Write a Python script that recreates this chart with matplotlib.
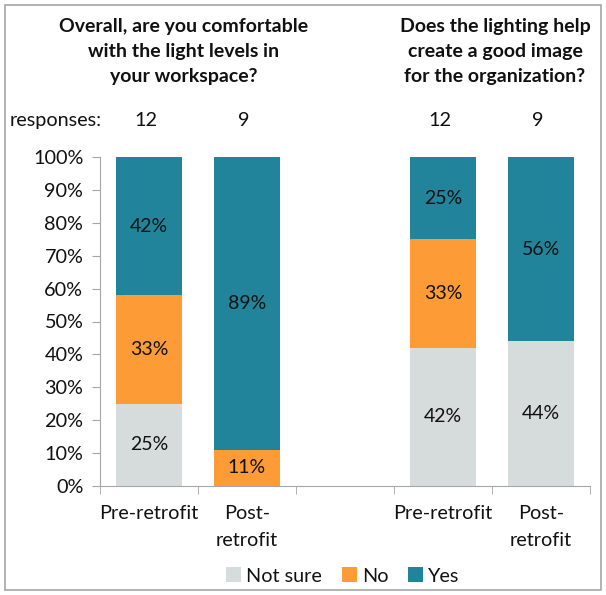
import matplotlib
matplotlib.use("Agg")
import matplotlib.pyplot as plt
from matplotlib.patches import Rectangle
import numpy as np

plt.rcParams['font.family'] = ['Lato', 'DejaVu Sans']

categories = ["Pre-retrofit", "Post-\nretrofit", "", "Pre-retrofit", "Post-\nretrofit"]
not_sure = [25, 0, None, 42, 44]
no = [33, 11, None, 33, 0]
yes = [42, 89, None, 25, 56]
responses = ["12", "9", "", "12", "9"]
titles = ["Overall, are you comfortable\nwith the light levels in\nyour workspace?",
          "Does the lighting help\ncreate a good image\nfor the organization?"]

colors = {"Not sure": "#D6DBDB", "No": "#FD9B37", "Yes": "#21849B"}
txt = "#111111"
fs = 14.3

fig = plt.figure(figsize=(6.06, 5.95), dpi=100)
ax = fig.add_axes([100/606, 1-486/595, 490/606, 329/595])

x = np.arange(len(categories))
w = 0.675
series = [("Not sure", not_sure), ("No", no), ("Yes", yes)]
bottom = np.zeros(len(categories))
for name, vals in series:
    v = np.array([0 if a is None else a for a in vals], dtype=float)
    ax.bar(x, v, w, bottom=bottom, color=colors[name], label=name, linewidth=0)
    for i, val in enumerate(v):
        if val > 0:
            ax.text(x[i], bottom[i] + val/2, f"{int(val)}%", ha="center", va="center",
                    fontsize=14, color=txt)
    bottom += v

ax.set_xlim(-0.5, len(categories) - 0.5)
ax.set_ylim(0, 100)
ax.set_yticks(np.arange(0, 101, 10))
ax.set_yticklabels([f"{t}%" for t in range(0, 101, 10)], fontsize=fs, color=txt)
ax.set_xticks(x)
ax.set_xticklabels(categories, fontsize=fs, linespacing=1.7, color=txt)
ax.set_xticks(np.arange(-0.5, len(categories), 1), minor=True)
ax.tick_params(axis="x", which="major", length=0, pad=14)
ax.tick_params(axis="x", which="minor", length=6, color="#A6A6A6", direction="out")
ax.tick_params(axis="y", length=6, color="#A6A6A6", direction="out", pad=6)
for s in ["top", "right"]:
    ax.spines[s].set_visible(False)
for s in ["left", "bottom"]:
    ax.spines[s].set_color("#A6A6A6")

# responses row
fig.text(10/606, 1-121/595, "responses:", fontsize=fs, ha="left", va="center", color=txt)
for i, r in enumerate(responses):
    if r:
        xf = ax.transData.transform((x[i], 0))[0] / fig.bbox.width
        fig.text(xf - 3/606, 1-121/595, r, fontsize=fs, ha="center", va="center", color=txt)

fig.text(184/606, 1-18/595, titles[0], fontsize=14, fontweight="bold", ha="center", va="top",
         linespacing=1.56, color=txt)
fig.text(495/606, 1-18/595, titles[1], fontsize=14, fontweight="bold", ha="center", va="top",
         linespacing=1.56, color=txt)

leg = ax.legend(loc="center", bbox_to_anchor=(343/606, 1-576/595), bbox_transform=fig.transFigure,
                ncol=3, frameon=False, fontsize=fs, handlelength=0.75, handleheight=0.75,
                handletextpad=0.25, columnspacing=1.0)
for t in leg.get_texts():
    t.set_color(txt)

fig.add_artist(Rectangle((5/606, 5/595), 596/606, 585/595, transform=fig.transFigure,
                         fill=False, edgecolor="#A6A6A6", linewidth=1.2))

fig.savefig("out.png", dpi=100)
